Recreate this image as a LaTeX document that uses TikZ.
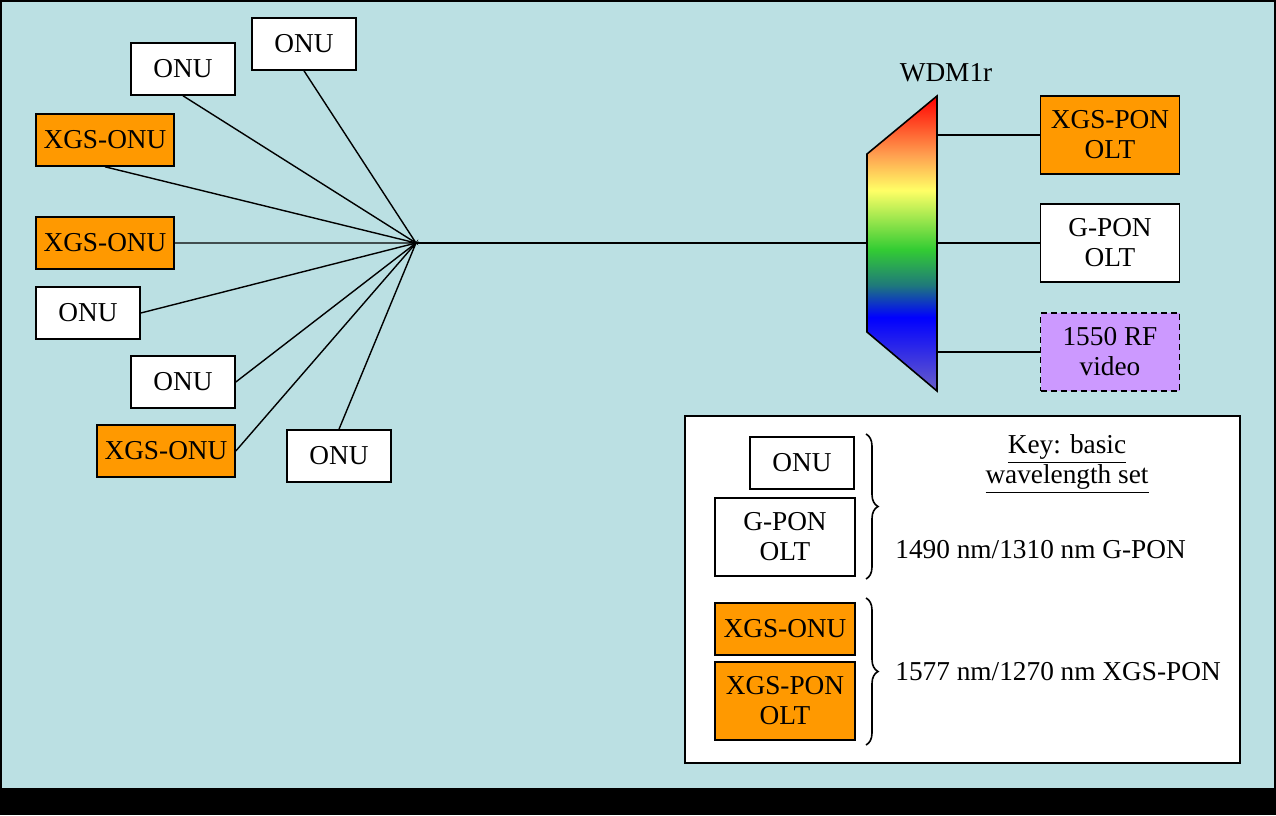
\documentclass[tikz,border=0pt]{standalone}
\usepackage{fontspec}
\setmainfont{Liberation Serif}
\usetikzlibrary{decorations.pathreplacing}
\definecolor{bgblue}{HTML}{BBE0E3}
\definecolor{xgsorange}{HTML}{FF9900}
\definecolor{rfpurple}{HTML}{CC99FF}
\definecolor{wdmred}{HTML}{FF0000}
\definecolor{wdmorange}{HTML}{FFA050}
\definecolor{wdmyellow}{HTML}{FFFF66}
\definecolor{wdmgreen}{HTML}{33CC33}
\definecolor{wdmteal}{HTML}{1F7A7A}
\definecolor{wdmblue}{HTML}{0000FF}
\definecolor{wdmslate}{HTML}{6A5FC8}
\pgfdeclareverticalshading{wdmspectrum}{100bp}{color(0bp)=(wdmslate);
  color(25bp)=(wdmslate); color(37.5bp)=(wdmblue); color(43bp)=(wdmteal);
  color(49bp)=(wdmgreen); color(59bp)=(wdmyellow); color(65bp)=(wdmorange);
  color(75bp)=(wdmred); color(100bp)=(wdmred)}
\begin{document}
\begin{tikzpicture}[x=0.5pt,y=-0.5pt,
    txt/.style={inner sep=0pt,align=center,font=\fontsize{13.65}{15}\selectfont},
    box/.style={txt,draw,line width=0.8pt},
    onu/.style={box,fill=white,minimum width=52pt,minimum height=26pt},
    xgsonu/.style={box,fill=xgsorange,minimum width=69pt,minimum height=26pt},
    olt/.style={box,minimum width=69.5pt,minimum height=39pt},
    fibre/.style={line width=0.7pt},
    keybrace/.style={decorate,decoration={brace,amplitude=6pt},line width=0.8pt}]
      \useasboundingbox (0,0) rectangle (1276,815);
      \fill[black] (0,0) rectangle (1276,815);
      \fill[bgblue] (2,2) rectangle (1274,788);
      \coordinate (hub) at (416,243);
      \node[onu] (onuA) at (183,69) {ONU};
      \node[onu] (onuB) at (304,44) {ONU};
      \node[xgsonu] (xonuA) at (105,140) {XGS-ONU};
      \node[xgsonu] (xonuB) at (105,243) {XGS-ONU};
      \node[onu] (onuC) at (88,313) {ONU};
      \node[onu] (onuD) at (183,382) {ONU};
      \node[xgsonu] (xonuC) at (166,451) {XGS-ONU};
      \node[onu] (onuE) at (339,456) {ONU};
      \draw[fibre] (onuA.south) -- (hub) -- (onuB.south);
      \draw[fibre] (xonuA.south) -- (hub) -- (xonuB.east);
      \draw[fibre] (onuC.east) -- (hub) -- (onuD.east);
      \draw[fibre] (xonuC.east) -- (hub) -- (onuE.north);
      \coordinate (wtl) at (867,154);
      \coordinate (wtr) at (937,96);
      \coordinate (wbr) at (937,391);
      \coordinate (wbl) at (867,332);
      \coordinate (win) at (867,243);
      \shade[shading=wdmspectrum] (wtl) -- (wtr) -- (wbr) -- (wbl) -- cycle;
      \draw[line width=0.8pt] (wtl) -- (wtr) -- (wbr) -- (wbl) -- cycle;
      \node[txt] (wdmlabel) at (946,73) {WDM1r};
      \draw[fibre] (hub) -- (win);
      \node[olt,fill=xgsorange] (xolt) at (1110,135) {XGS-PON\\OLT};
      \node[olt,fill=white] (golt) at (1110,243) {G-PON\\OLT};
      \node[olt,fill=rfpurple,dash pattern=on 3pt off 2pt] (rfvid) at (1110,352) {1550 RF\\video};
      \draw[fibre] (xolt.west) -- (xolt.west -| wtr);
      \draw[fibre] (golt.west) -- (golt.west -| wtr);
      \draw[fibre] (rfvid.west) -- (rfvid.west -| wtr);
      \draw[line width=0.8pt,fill=white] (685,416) rectangle (1240,763);
      \node[onu] (konu) at (802,463) {ONU};
      \node[olt,fill=white,minimum width=70pt] (kgolt) at (785,537) {G-PON\\OLT};
      \node[xgsonu,minimum width=70pt] (kxonu) at (785,629) {XGS-ONU};
      \node[olt,fill=xgsorange,minimum width=70pt] (kxolt) at (785,701) {XGS-PON\\OLT};
      \coordinate (gtop) at (866,434);
      \coordinate (gbot) at (866,579);
      \coordinate (xtop) at (866,598);
      \coordinate (xbot) at (866,745);
      \draw[keybrace] (gtop) -- (gbot);
      \draw[keybrace] (xtop) -- (xbot);
      \node[txt] (keytitle) at (1067,464) {\underline{Key: basic}\\\underline{wavelength set}};
      \node[txt,anchor=west] (gset) at (895,550) {1490 nm/1310 nm G-PON};
      \node[txt,anchor=west] (xset) at (895,672) {1577 nm/1270 nm XGS-PON};
    \end{tikzpicture}
\end{document}
